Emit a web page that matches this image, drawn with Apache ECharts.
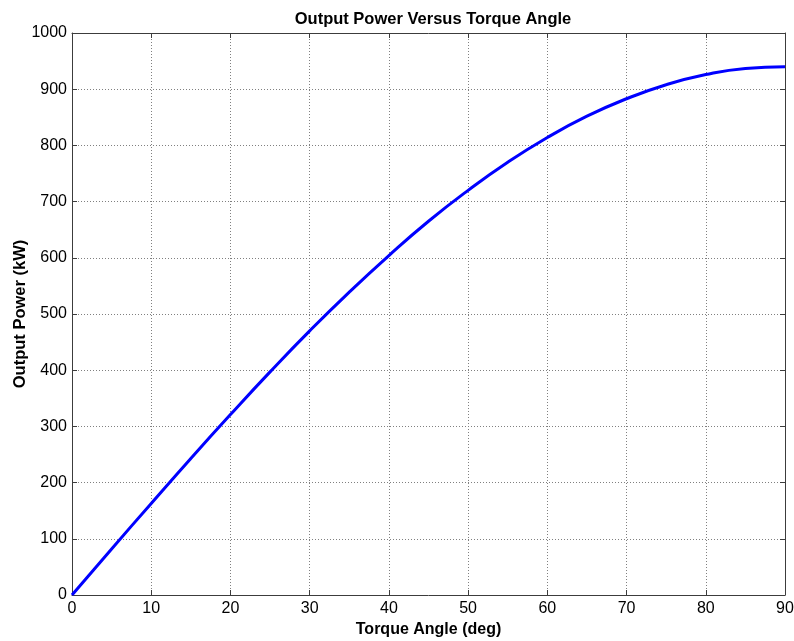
<!DOCTYPE html>
<html><head><meta charset="utf-8">
<script src="https://cdn.jsdelivr.net/npm/echarts@6/dist/echarts.min.js"></script>
<style>html,body{margin:0;padding:0;background:#fff}#c{width:794px;height:641px}</style>
</head><body><div id="c"></div>
<script>
var angles = [0,5,10,15,20,25,30,35,40,45,50,55,60,65,70,75,80,85,90];
var power  = [0,82,163,243,321,397,470,539,604,665,720,770,814,852,883,908,926,937,940];
var xTicks = [0,10,20,30,40,50,60,70,80,90];
var yTicks = [0,100,200,300,400,500,600,700,800,900,1000];

var font = "'Liberation Sans', Arial, Helvetica, sans-serif";
var axisCol = '#3c3c3c';
var chart = echarts.init(document.getElementById('c'), null, {renderer:'canvas'});
function xAxis(pos, show){
  return {type:'value', position:pos, min:xTicks[0], max:xTicks[xTicks.length-1], interval:10,
    axisLine:{show:true, onZero:false, lineStyle:{color:axisCol, width:1}},
    axisTick:{show:true, inside:true, length:5, lineStyle:{color:axisCol}},
    axisLabel:{show:show, color:'#000', fontSize:16, fontFamily:font, margin:6,
      formatter:function(v){return String(v);}},
    splitLine:{show:show, lineStyle:{color:'#808080', type:[1,2], width:1}}};
}
function yAxis(pos, show){
  return {type:'value', position:pos, min:yTicks[0], max:yTicks[yTicks.length-1], interval:100,
    axisLine:{show:true, onZero:false, lineStyle:{color:axisCol, width:1}},
    axisTick:{show:true, inside:true, length:5, lineStyle:{color:axisCol}},
    axisLabel:{show:show, color:'#000', fontSize:16, fontFamily:font, margin:5,
      formatter:function(v){return String(v);}},
    splitLine:{show:show, lineStyle:{color:'#808080', type:[1,2], width:1}}};
}
var xb = xAxis('bottom', true);
xb.name = 'Torque Angle (deg)'; xb.nameLocation='middle'; xb.nameGap=26;
xb.nameTextStyle = {fontSize:16, fontWeight:'bold', fontFamily:font, color:'#000'};
var yl = yAxis('left', true);
yl.name = 'Output Power (kW)'; yl.nameLocation='middle'; yl.nameGap=43; yl.nameMoveOverlap=false;
yl.nameTextStyle = {fontSize:16.5, fontWeight:'bold', fontFamily:font, color:'#000'};
var xt = xAxis('top', false); var yr = yAxis('right', false);

chart.setOption({
  animation:false,
  backgroundColor:'#fff',
  title:{text:'Output Power Versus Torque Angle', left:428, top:6, textAlign:'center',
    textStyle:{fontSize:16.5, fontWeight:'bold', fontFamily:font, color:'#000'}},
  grid:{left:72, right:9, top:33, bottom:46, containLabel:false, outerBoundsMode:'none'},
  xAxis:[xb, xt],
  yAxis:[yl, yr],
  series:[{type:'line', xAxisIndex:0, yAxisIndex:0, smooth:true, symbol:'none',
    data: angles.map(function(a,i){return [a, power[i]];}),
    lineStyle:{color:'#0000ff', width:3}}]
});
</script></body></html>
